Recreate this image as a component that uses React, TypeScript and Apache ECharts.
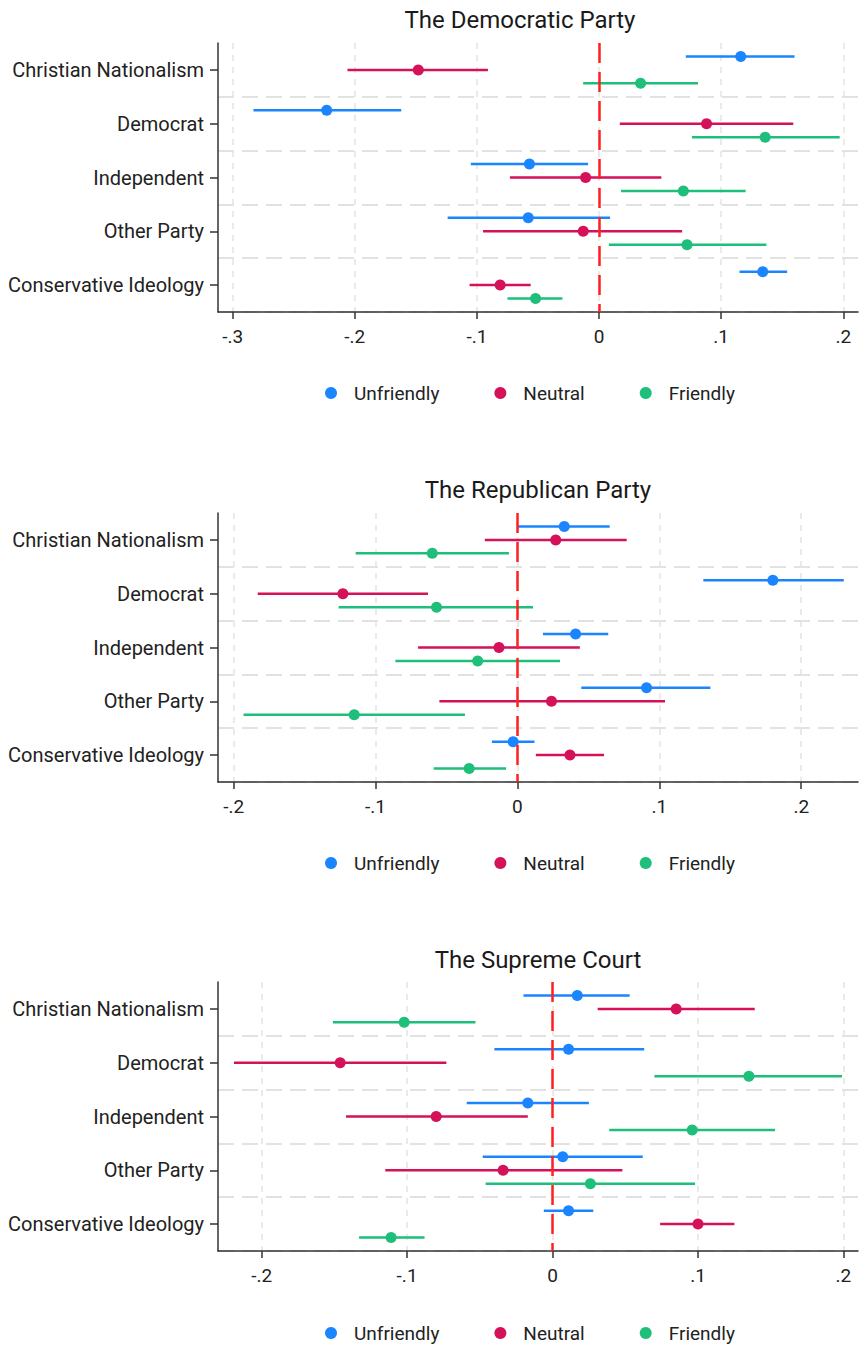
import React, { useEffect, useRef } from "react";
import * as echarts from "echarts";

// ---------- data ----------
const categories = [
  "Christian Nationalism",
  "Democrat",
  "Independent",
  "Other Party",
  "Conservative Ideology",
];
const groupNames = ["Unfriendly", "Neutral", "Friendly"];
const panelTitles = ["The Democratic Party", "The Republican Party", "The Supreme Court"];

// each entry: [estimate, lower CI, upper CI], one per category
const demUnfriendly = [[0.116, 0.071, 0.160], [-0.223, -0.283, -0.162], [-0.057, -0.105, -0.009], [-0.058, -0.124, 0.009], [0.134, 0.115, 0.154]];
const demNeutral = [[-0.148, -0.206, -0.091], [0.088, 0.017, 0.159], [-0.011, -0.073, 0.051], [-0.013, -0.095, 0.068], [-0.081, -0.106, -0.056]];
const demFriendly = [[0.034, -0.013, 0.081], [0.136, 0.076, 0.197], [0.069, 0.018, 0.120], [0.072, 0.008, 0.137], [-0.052, -0.075, -0.030]];

const repUnfriendly = [[0.033, 0.000, 0.065], [0.180, 0.131, 0.230], [0.041, 0.018, 0.064], [0.091, 0.045, 0.136], [-0.003, -0.018, 0.012]];
const repNeutral = [[0.027, -0.023, 0.077], [-0.123, -0.183, -0.063], [-0.013, -0.070, 0.044], [0.024, -0.055, 0.104], [0.037, 0.013, 0.061]];
const repFriendly = [[-0.060, -0.114, -0.006], [-0.057, -0.126, 0.011], [-0.028, -0.086, 0.030], [-0.115, -0.193, -0.037], [-0.034, -0.059, -0.008]];

const scUnfriendly = [[0.017, -0.020, 0.053], [0.011, -0.040, 0.063], [-0.017, -0.059, 0.025], [0.007, -0.048, 0.062], [0.011, -0.006, 0.028]];
const scNeutral = [[0.085, 0.031, 0.139], [-0.146, -0.219, -0.073], [-0.080, -0.142, -0.017], [-0.034, -0.115, 0.048], [0.100, 0.074, 0.125]];
const scFriendly = [[-0.102, -0.151, -0.053], [0.135, 0.070, 0.199], [0.096, 0.039, 0.153], [0.026, -0.046, 0.098], [-0.111, -0.133, -0.088]];

const demTicks = [-0.3, -0.2, -0.1, 0, 0.1, 0.2];
const repTicks = [-0.2, -0.1, 0, 0.1, 0.2];
const scTicks = [-0.2, -0.1, 0, 0.1, 0.2];

// ---------- layout / style ----------
const FONT = 'Roboto, "Noto Sans", sans-serif';
const colors = ["#1a85ff", "#d41159", "#1ebe7b"];
const panels = [
  { title: panelTitles[0], groups: [demUnfriendly, demNeutral, demFriendly], ticks: demTicks, range: [-0.312, 0.212], top: 43, titleX: 520, titleY: 20, legendTop: 378 },
  { title: panelTitles[1], groups: [repUnfriendly, repNeutral, repFriendly], ticks: repTicks, range: [-0.211, 0.24], top: 513, titleX: 538, titleY: 490, legendTop: 848 },
  { title: panelTitles[2], groups: [scUnfriendly, scNeutral, scFriendly], ticks: scTicks, range: [-0.23, 0.21], top: 982, titleX: 538, titleY: 960, legendTop: 1318 },
];
const GRID_LEFT = 218;
const GRID_WIDTH = 640;
const GRID_HEIGHT = 269;

const fmt = (v: number) => {
  if (Math.abs(v) < 1e-9) return "0";
  return (v < 0 ? "-" : "") + Math.abs(v).toFixed(1).replace(/^0/, "");
};

function buildOption() {
  const grid: any[] = [];
  const xAxis: any[] = [];
  const yAxis: any[] = [];
  const legend: any[] = [];
  const series: any[] = [];
  const graphic: any[] = [];

  panels.forEach((p, pi) => {
    grid.push({
      left: GRID_LEFT,
      top: p.top,
      width: GRID_WIDTH,
      height: GRID_HEIGHT,
      containLabel: false,
      outerBoundsMode: "none",
    });
    xAxis.push({
      type: "value",
      gridIndex: pi,
      min: p.range[0],
      max: p.range[1],
      axisLine: { show: true, onZero: false, lineStyle: { color: "#333", width: 1.5 } },
      axisTick: { show: true, length: 7, customValues: p.ticks, lineStyle: { color: "#333", width: 1.5 } },
      axisLabel: {
        customValues: p.ticks,
        formatter: (v: number) => fmt(v),
        fontFamily: FONT,
        fontSize: 19,
        color: "#222",
        margin: 15,
      },
      splitLine: { show: true, lineStyle: { color: "#e4e4e4", width: 1.5, type: [6, 6] } },
    });
    yAxis.push({
      type: "category",
      gridIndex: pi,
      data: categories,
      inverse: true,
      axisLine: { show: true, onZero: false, lineStyle: { color: "#333", width: 1.5 } },
      axisTick: { show: true, alignWithLabel: true, length: 8, lineStyle: { color: "#333", width: 1.5 } },
      axisLabel: { fontFamily: FONT, fontSize: 20, color: "#222", margin: 14 },
      splitLine: {
        show: true,
        interval: (i: number) => i !== 0,
        lineStyle: { color: "#e2e2e2", width: 2, type: [16, 8] },
      },
    });
    legend.push({
      data: groupNames,
      left: 320,
      top: p.legendTop,
      icon: "circle",
      itemWidth: 36,
      itemHeight: 12,
      itemGap: 55,
      selectedMode: false,
      textStyle: { fontFamily: FONT, fontSize: 19, color: "#222", lineHeight: 20 },
    });
    graphic.push({
      type: "text",
      x: p.titleX,
      y: p.titleY,
      style: {
        text: p.title,
        fontFamily: FONT,
        fontSize: 24,
        fill: "#1a1a1a",
        align: "center",
        verticalAlign: "middle",
      },
    });

    p.groups.forEach((arr, gi) => {
      const offset = (gi - 1) * 0.25;
      const color = colors[gi];
      const s: any = {
        type: "custom",
        name: groupNames[gi],
        xAxisIndex: pi,
        yAxisIndex: pi,
        itemStyle: { color },
        encode: { x: [1, 2, 3], y: 0 },
        data: arr.map((d, ci) => [ci, d[0], d[1], d[2]]),
        renderItem: (params: any, api: any) => {
          const ci = api.value(0);
          const c = api.coord([api.value(1), ci]);
          const lo = api.coord([api.value(2), ci]);
          const hi = api.coord([api.value(3), ci]);
          const band = api.size([0, 1])[1];
          const y = c[1] + offset * band;
          return {
            type: "group",
            children: [
              { type: "line", shape: { x1: lo[0], y1: y, x2: hi[0], y2: y }, style: { stroke: color, lineWidth: 2.5 } },
              { type: "circle", shape: { cx: c[0], cy: y, r: 5.5 }, style: { fill: color } },
            ],
          };
        },
      };
      if (gi === 0) {
        s.markLine = {
          silent: true,
          symbol: ["none", "none"],
          label: { show: false },
          lineStyle: { color: "#ff2020", type: [20, 9], width: 2.5 },
          data: [{ xAxis: 0 }],
        };
      }
      series.push(s);
    });
  });

  return {
    animation: false,
    backgroundColor: "#ffffff",
    grid,
    xAxis,
    yAxis,
    legend,
    graphic,
    series,
  };
}

export default function App() {
  const ref = useRef<HTMLDivElement>(null);
  useEffect(() => {
    if (!ref.current) return;
    const chart = echarts.init(ref.current, null, { renderer: "svg" });
    chart.setOption(buildOption() as any);
    return () => chart.dispose();
  }, []);
  return (
    <div
      ref={ref}
      style={{ position: "absolute", left: 0, top: 0, width: 862, height: 1348, background: "#fff" }}
    />
  );
}
